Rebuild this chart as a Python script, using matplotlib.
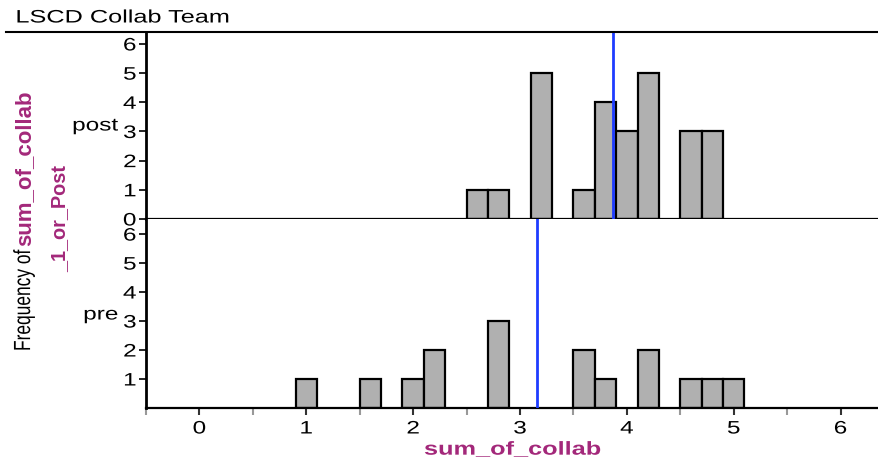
import matplotlib
matplotlib.use("Agg")
import matplotlib.pyplot as plt
from matplotlib.lines import Line2D
from matplotlib.patheffects import AbstractPathEffect
from matplotlib.transforms import Affine2D

plt.rcParams['font.family'] = ['Liberation Sans', 'DejaVu Sans']

# --- data ---
post_bins = [2.6, 2.8, 3.2, 3.6, 3.8, 4.0, 4.2, 4.6, 4.8]
post_counts = [1, 1, 5, 1, 4, 3, 5, 3, 3]
pre_bins = [1.0, 1.6, 2.0, 2.2, 2.8, 3.6, 3.8, 4.2, 4.6, 4.8, 5.0]
pre_counts = [1, 1, 1, 2, 3, 2, 1, 2, 1, 1, 1]
post_mean = 3.87
pre_mean = 3.16
bin_width = 0.2
x_ticks = [0, 1, 2, 3, 4, 5, 6]
x_minor = [-0.5, 0.5, 1.5, 2.5, 3.5, 4.5, 5.5]


class HStretch(AbstractPathEffect):
    """Widen drawn text horizontally (the reference's text looks stretched)."""
    def __init__(self, sx=1.35, anchor='center'):
        super().__init__()
        self.sx = sx
        self.anchor = anchor

    def draw_path(self, renderer, gc, tpath, affine, rgbFace=None):
        ext = tpath.get_extents(affine)
        x0 = {'left': ext.x0, 'right': ext.x1,
              'center': 0.5 * (ext.x0 + ext.x1)}[self.anchor]
        st = affine + Affine2D().translate(-x0, 0).scale(self.sx, 1).translate(x0, 0)
        renderer.draw_path(gc, tpath, st, rgbFace)


W, H = 879, 461
fig = plt.figure(figsize=(W / 100, H / 100), dpi=100)

def px(x0, y0, x1, y1):
    # pixel box (top-left origin) -> figure fraction rect
    return [x0 / W, 1 - y1 / H, (x1 - x0) / W, (y1 - y0) / H]

ax_post = fig.add_axes(px(146, 32, 879, 219))
ax_pre = fig.add_axes(px(146, 219, 879, 408), sharex=ax_post)

bar_color = '#B0B0B0'
blue = '#1E3CFF'
magenta = '#A3287A'

for ax, bins, counts, mean, ylim, yt in [
        (ax_post, post_bins, post_counts, post_mean, 6.41, range(0, 7)),
        (ax_pre, pre_bins, pre_counts, pre_mean, 6.52, range(1, 7))]:
    ax.bar(bins, counts, width=bin_width, color=bar_color,
           edgecolor='black', linewidth=1.6, zorder=2)
    ax.axvline(mean, color=blue, linewidth=2, zorder=3)
    ax.set_ylim(0, ylim)
    ax.set_yticks(list(yt))
    ax.tick_params(axis='y', length=5, width=1.2, pad=2, labelsize=13)
    for s in ['top', 'right']:
        ax.spines[s].set_visible(False)
    ax.spines['left'].set_linewidth(2)
    ax.spines['bottom'].set_linewidth(1.6)

ax_post.set_xlim(-0.5, 6.36)
ax_post.tick_params(axis='x', which='both', bottom=False, labelbottom=False)

ax_pre.set_xticks(x_ticks)
ax_pre.set_xticks(x_minor, minor=True)
ax_pre.tick_params(axis='x', which='major', length=5, width=1.5,
                   color='#333333', labelsize=13, pad=4)
ax_pre.tick_params(axis='x', which='minor', length=5, width=1.5,
                   color='#999999')
xl = ax_pre.set_xlabel('sum_of_collab', color=magenta, fontsize=13.5,
                       fontweight='bold', labelpad=3)

# title and separator line
title = fig.text(16 / W, 1 - 18 / H, 'LSCD Collab Team', fontsize=13,
                 ha='left', va='center')
fig.add_artist(Line2D([6 / W, 1], [1 - 32 / H, 1 - 32 / H],
                      color='black', linewidth=1.5))

# group labels
t_post = fig.text(118 / W, 1 - 126 / H, 'post', fontsize=13, ha='right', va='center')
t_pre = fig.text(118 / W, 1 - 315 / H, 'pre', fontsize=13, ha='right', va='center')

# y label pieces (rotated)
t_freq = fig.text(24 / W, 1 - 351 / H, 'Frequency of', rotation=90, fontsize=12.5,
                  ha='center', va='bottom')
t_sum = fig.text(25 / W, 1 - 168 / H, 'sum_of_collab', rotation=90, fontsize=16,
                 fontweight='bold', color=magenta, ha='center', va='center')
t_post1 = fig.text(60 / W, 1 - 218 / H, '_1_or_Post', rotation=90, fontsize=14.3,
                   fontweight='bold', color=magenta, ha='center', va='center')

fig.canvas.draw()

# widen all horizontal text like the reference
for lab in ax_post.get_yticklabels() + ax_pre.get_yticklabels():
    lab.set_path_effects([HStretch(anchor='right')])
for lab in ax_pre.get_xticklabels():
    lab.set_path_effects([HStretch(anchor='center')])
xl.set_path_effects([HStretch(anchor='center')])
title.set_path_effects([HStretch(sx=1.4, anchor='left')])
t_post.set_path_effects([HStretch(anchor='right')])
t_pre.set_path_effects([HStretch(anchor='right')])
t_freq.set_path_effects([HStretch(sx=1.35, anchor='center')])

fig.savefig('out.png', dpi=100)
